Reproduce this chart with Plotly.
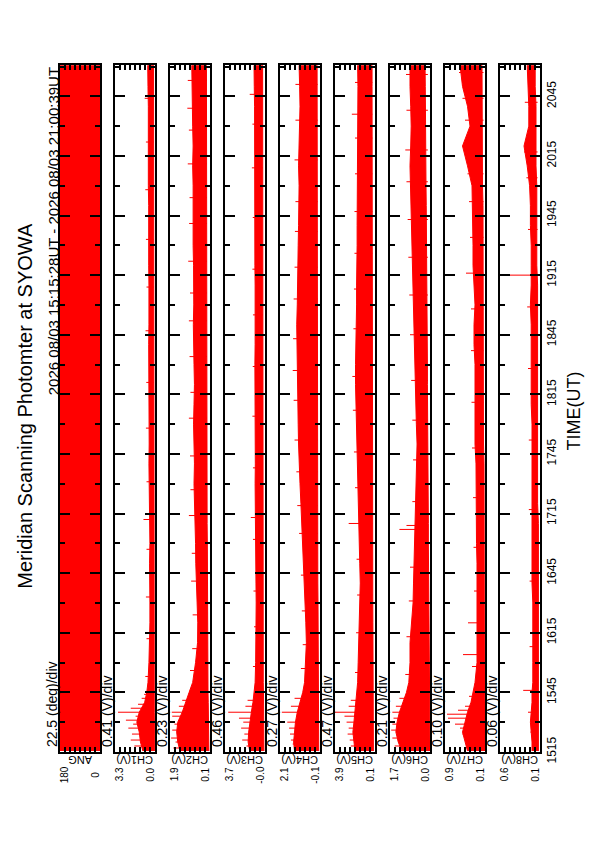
import plotly.graph_objects as go

W, H = 595, 842
OFF = 8  # browser default body margin
FONT = "Liberation Sans, Arial, sans-serif"
RED = "#ff0000"

# ---------------- data ----------------
channels = ["ANG", "CH1(V)", "CH2(V)", "CH3(V)", "CH4(V)", "CH5(V)", "CH6(V)", "CH7(V)", "CH8(V)"]
ch_max = [180, 3.3, 1.9, 3.7, 2.1, 3.9, 1.7, 0.9, 0.6]
ch_min = [0, 0.0, 0.1, -0.02, -0.1, 0.1, 0.0, 0.1, 0.1]
max_labels = ["180", "3.3", "1.9", "3.7", "2.1", "3.9", "1.7", "0.9", "0.6"]
min_labels = ["0", "0.0", "0.1", "-0.0", "-0.1", "0.1", "0.0", "0.1", "0.1"]
div_labels = ["22.5 (deg)/div", "0.41 (V)/div", "0.23 (V)/div", "0.46 (V)/div", "0.27 (V)/div",
              "0.47 (V)/div", "0.21 (V)/div", "0.10 (V)/div", "0.06 (V)/div"]
time_tick_labels = ["1515", "1545", "1615", "1645", "1715", "1745", "1815", "1845",
                    "1915", "1945", "2015", "2045"]
t_axis_start, t_axis_end = "15:15:00", "21:00:39"

ang_times = ["15:15:28", "21:00:39"]
ang_lo = [0, 0]
ang_hi = [180, 180]

band_times = ["15:15:28", "15:20", "15:25", "15:30", "15:35", "15:40", "15:45", "15:50", "16:00", "16:10",
              "16:20", "16:30", "16:40", "16:50", "17:00", "17:10", "17:20", "17:30", "17:40", "17:50",
              "18:00", "18:10", "18:20", "18:30", "18:40", "18:50", "19:00", "19:10", "19:20", "19:30",
              "19:40", "19:50", "20:00", "20:10", "20:20", "20:30", "20:40", "20:50", "21:00:39"]

ch1_hi = [1.0, 1.2, 1.3, 1.5, 1.3, 0.85, 0.68, 0.58, 0.5, 0.45, 0.42, 0.42, 0.45, 0.45, 0.42, 0.45, 0.48, 0.5, 0.5, 0.48,
          0.5, 0.52, 0.5, 0.5, 0.52, 0.5, 0.48, 0.5, 0.52, 0.5, 0.5, 0.52, 0.55, 0.55, 0.5, 0.52, 0.55, 0.58, 0.6]
ch1_lo = [0.05, 0.05, 0.06, 0.05, 0.06, 0.06, 0.07, 0.07, 0.08, 0.08, 0.08, 0.08, 0.09, 0.09, 0.08, 0.09, 0.09, 0.1, 0.1, 0.1,
          0.1, 0.1, 0.1, 0.11, 0.11, 0.1, 0.1, 0.1, 0.11, 0.11, 0.1, 0.1, 0.11, 0.12, 0.12, 0.12, 0.12, 0.12, 0.12]
ch2_hi = [1.45, 1.55, 1.6, 1.55, 1.35, 1.18, 1.04, 0.88, 0.75, 0.66, 0.65, 0.68, 0.72, 0.74, 0.75, 0.78, 0.8, 0.82, 0.8, 0.82,
          0.84, 0.82, 0.8, 0.82, 0.84, 0.85, 0.83, 0.82, 0.84, 0.86, 0.85, 0.84, 0.86, 0.88, 0.86, 0.88, 0.9, 0.9, 0.92]
ch2_lo = [0.15, 0.15, 0.16, 0.16, 0.17, 0.18, 0.19, 0.2, 0.2, 0.2, 0.21, 0.21, 0.22, 0.22, 0.22, 0.23, 0.23, 0.23, 0.24, 0.24,
          0.24, 0.24, 0.25, 0.25, 0.25, 0.25, 0.24, 0.24, 0.25, 0.25, 0.25, 0.25, 0.26, 0.26, 0.26, 0.26, 0.26, 0.26, 0.26]
ch3_hi = [1.4, 1.55, 1.5, 1.4, 1.25, 1.1, 1.0, 0.9, 0.85, 0.82, 0.8, 0.8, 0.82, 0.85, 0.85, 0.85, 0.88, 0.9, 0.88, 0.9,
          0.92, 0.9, 0.9, 0.92, 0.9, 0.88, 0.9, 0.9, 0.92, 0.92, 0.9, 0.92, 0.94, 0.95, 0.92, 0.95, 0.95, 0.98, 1.0]
ch3_lo = [0.08, 0.08, 0.1, 0.1, 0.1, 0.12, 0.12, 0.14, 0.15, 0.15, 0.16, 0.16, 0.16, 0.17, 0.17, 0.17, 0.18, 0.18, 0.18, 0.18,
          0.18, 0.18, 0.19, 0.19, 0.19, 0.19, 0.18, 0.18, 0.19, 0.19, 0.19, 0.2, 0.2, 0.2, 0.2, 0.2, 0.2, 0.2, 0.2]
ch4_hi = [1.3, 1.35, 1.3, 1.25, 1.15, 1.0, 0.85, 0.75, 0.68, 0.65, 0.68, 0.72, 0.75, 0.8, 0.85, 0.9, 0.95, 1.0, 1.05, 1.08,
          1.1, 1.12, 1.15, 1.18, 1.2, 1.18, 1.15, 1.12, 1.1, 1.1, 1.08, 1.05, 1.05, 1.08, 1.05, 1.02, 1.0, 1.02, 1.05]
ch4_lo = [-0.03, -0.03, -0.02, -0.02, -0.02, -0.01, 0.0, 0.0, 0.0, 0.01, 0.01, 0.01, 0.02, 0.02, 0.02, 0.02, 0.02, 0.03, 0.03, 0.03,
          0.03, 0.03, 0.03, 0.03, 0.03, 0.03, 0.03, 0.03, 0.03, 0.04, 0.04, 0.04, 0.04, 0.05, 0.05, 0.05, 0.05, 0.06, 0.06]
ch5_hi = [2.0, 2.1, 2.2, 2.1, 2.0, 1.9, 1.8, 1.75, 1.7, 1.65, 1.55, 1.5, 1.5, 1.55, 1.6, 1.65, 1.7, 1.75, 1.8, 1.85,
          1.9, 1.9, 1.95, 1.95, 1.9, 1.9, 1.85, 1.85, 1.8, 1.8, 1.8, 1.78, 1.75, 1.75, 1.72, 1.7, 1.7, 1.72, 1.75]
ch5_lo = [0.25, 0.25, 0.26, 0.26, 0.27, 0.28, 0.28, 0.3, 0.3, 0.3, 0.3, 0.31, 0.31, 0.32, 0.32, 0.33, 0.33, 0.34, 0.34, 0.35,
          0.35, 0.35, 0.36, 0.36, 0.36, 0.36, 0.37, 0.37, 0.37, 0.37, 0.38, 0.38, 0.38, 0.38, 0.38, 0.38, 0.38, 0.38, 0.38]
ch6_hi = [1.2, 1.35, 1.45, 1.4, 1.3, 1.15, 1.0, 0.9, 0.85, 0.85, 0.78, 0.72, 0.7, 0.68, 0.65, 0.62, 0.6, 0.58, 0.55, 0.55,
          0.58, 0.6, 0.62, 0.65, 0.68, 0.7, 0.72, 0.72, 0.75, 0.78, 0.8, 0.8, 0.82, 0.85, 0.82, 0.8, 0.82, 0.85, 0.85]
ch6_lo = [0.0, 0.0, 0.0, 0.0, 0.01, 0.01, 0.02, 0.02, 0.03, 0.04, 0.05, 0.05, 0.06, 0.06, 0.07, 0.07, 0.08, 0.08, 0.08, 0.09,
          0.1, 0.1, 0.11, 0.11, 0.12, 0.12, 0.13, 0.13, 0.14, 0.14, 0.15, 0.16, 0.17, 0.18, 0.18, 0.19, 0.2, 0.2, 0.21]
ch7_hi = [0.45, 0.5, 0.55, 0.5, 0.45, 0.38, 0.34, 0.3, 0.26, 0.26, 0.25, 0.25, 0.26, 0.26, 0.27, 0.27, 0.28, 0.28, 0.28, 0.3,
          0.3, 0.3, 0.3, 0.3, 0.32, 0.32, 0.3, 0.32, 0.34, 0.34, 0.35, 0.36, 0.36, 0.45, 0.55, 0.4, 0.45, 0.55, 0.6]
ch7_lo = [0.1, 0.1, 0.1, 0.1, 0.1, 0.1, 0.11, 0.11, 0.11, 0.11, 0.11, 0.11, 0.12, 0.12, 0.12, 0.12, 0.12, 0.12, 0.12, 0.13,
          0.13, 0.13, 0.13, 0.13, 0.13, 0.13, 0.14, 0.14, 0.14, 0.14, 0.14, 0.14, 0.15, 0.15, 0.15, 0.15, 0.16, 0.16, 0.16]
ch8_hi = [0.2, 0.2, 0.21, 0.22, 0.21, 0.2, 0.2, 0.19, 0.19, 0.19, 0.19, 0.19, 0.2, 0.2, 0.2, 0.2, 0.2, 0.2, 0.2, 0.2,
          0.2, 0.21, 0.21, 0.21, 0.21, 0.21, 0.22, 0.21, 0.21, 0.21, 0.22, 0.22, 0.23, 0.26, 0.3, 0.24, 0.24, 0.25, 0.26]
ch8_lo = [0.12, 0.12, 0.12, 0.12, 0.12, 0.12, 0.12, 0.12, 0.12, 0.12, 0.12, 0.12, 0.12, 0.12, 0.12, 0.12, 0.13, 0.13, 0.13, 0.13,
          0.13, 0.13, 0.13, 0.13, 0.13, 0.13, 0.13, 0.13, 0.14, 0.14, 0.14, 0.14, 0.14, 0.15, 0.15, 0.15, 0.15, 0.16, 0.16]

# spikes: early burst plus the scattered excursions seen along each trace
ch1_spike_t = ["15:18", "15:21", "15:24", "15:27", "15:29", "15:31", "15:33", "15:35", "15:37", "15:39", "15:42", "15:44",
               "15:53", "16:12", "16:33", "16:57", "17:12", "17:31", "17:58", "18:21", "18:47", "19:09", "19:33",
               "19:58", "20:22", "20:44"]
ch1_spike_v = [1.7, 2.0, 1.9, 2.2, 1.8, 2.4, 1.6, 3.05, 2.0, 1.4, 1.1, 0.9,
               0.8, 0.7, 0.75, 0.7, 0.95, 0.7, 0.75, 0.72, 0.78, 0.7, 0.75, 0.8, 0.75, 0.85]
ch2_spike_t = ["15:17", "15:20", "15:22", "15:26", "15:29", "15:33", "15:35", "15:38", "15:41",
               "15:56", "16:07", "16:24", "16:41", "16:55", "17:14", "17:27", "17:44", "18:03", "18:16", "18:34",
               "18:52", "19:06", "19:22", "19:41", "19:54", "20:11", "20:28", "20:39", "20:53"]
ch2_spike_v = [1.75, 1.65, 1.85, 1.8, 1.7, 1.8, 1.82, 1.5, 1.35,
               1.0, 0.9, 0.88, 0.95, 0.92, 1.05, 0.98, 1.0, 1.05, 0.98, 1.02, 1.05, 1.0, 1.08, 1.04, 1.02, 1.1,
               1.05, 1.12, 1.1]
ch3_spike_t = ["15:18", "15:21", "15:24", "15:27", "15:30", "15:32", "15:35", "15:38", "15:41",
               "15:58", "16:18", "16:36", "17:02", "17:13", "17:38", "18:04", "18:29", "18:55", "19:18", "19:44",
               "20:09", "20:31", "20:46"]
ch3_spike_v = [1.7, 2.1, 1.9, 2.2, 2.0, 2.4, 3.4, 1.8, 1.6,
               1.1, 1.0, 1.05, 1.1, 1.3, 1.1, 1.15, 1.12, 1.1, 1.15, 1.12, 1.2, 1.15, 1.4]
ch4_spike_t = ["15:19", "15:21", "15:24", "15:27", "15:30", "15:35", "15:38", "15:42",
               "15:57", "16:09", "16:26", "16:44", "17:05", "17:19", "17:36", "17:52", "18:12", "18:27", "18:43",
               "19:03", "19:19", "19:37", "19:52", "20:13", "20:33", "20:51"]
ch4_spike_v = [1.4, 1.5, 1.55, 1.6, 1.7, 2.0, 1.5, 1.3,
               0.95, 0.85, 0.9, 0.95, 1.05, 1.15, 1.2, 1.3, 1.35, 1.4, 1.38, 1.35, 1.3, 1.28, 1.25, 1.3, 1.25, 1.25]
ch5_spike_t = ["15:18", "15:21", "15:24", "15:27", "15:30", "15:33", "15:35", "15:38", "15:41",
               "15:55", "16:15", "16:34", "16:52", "17:10", "17:28", "17:46", "18:07", "18:24", "18:48",
               "19:08", "19:26", "19:47", "20:06", "20:24", "20:36", "20:52"]
ch5_spike_v = [2.4, 2.5, 2.7, 2.6, 2.8, 3.0, 3.9, 2.6, 2.4,
               2.0, 1.9, 1.8, 1.85, 2.6, 2.0, 2.1, 2.2, 2.25, 2.15, 2.1, 2.05, 2.05, 2.0, 2.0, 2.3, 2.0]
ch6_spike_t = ["15:18", "15:22", "15:26", "15:29", "15:32", "15:35", "15:38", "15:42", "17:07", "17:09",
               "15:54", "16:13", "16:31", "16:48", "17:21", "17:42", "18:02", "18:22", "18:45", "19:05", "19:24",
               "19:43", "20:02", "20:18", "20:38", "20:56"]
ch6_spike_v = [1.5, 1.6, 1.65, 1.6, 1.55, 1.6, 1.45, 1.3, 1.3, 1.0,
               1.05, 1.0, 0.9, 0.85, 0.75, 0.72, 0.75, 0.8, 0.85, 0.88, 0.92, 0.95, 1.0, 1.05, 1.0, 1.02]
ch7_spike_t = ["15:24", "15:27", "15:29", "15:32", "15:34", "15:36", "15:38", "15:43", "16:04", "16:20", "19:16", "20:57",
               "15:58", "16:36", "16:58", "17:23", "17:48", "18:11", "18:37", "18:58", "19:34", "19:52", "20:06",
               "20:33", "20:44"]
ch7_spike_v = [0.55, 0.6, 0.7, 0.84, 0.86, 0.64, 0.5, 0.42, 0.54, 0.44, 0.48, 0.62,
               0.36, 0.32, 0.33, 0.34, 0.36, 0.37, 0.38, 0.38, 0.4, 0.42, 0.45, 0.5, 0.55]
ch8_spike_t = ["15:25", "15:35", "15:46", "19:15", "20:17",
               "16:08", "16:41", "17:17", "17:52", "18:28", "18:59", "19:38", "20:04", "20:42"]
ch8_spike_v = [0.22, 0.25, 0.31, 0.54, 0.3,
               0.23, 0.23, 0.24, 0.24, 0.25, 0.26, 0.25, 0.27, 0.29]


# ---------------- helpers ----------------
FW, FH = W - OFF, H - OFF  # figure size so that figure + body margin fits the window


def tmin(s):
    p = [int(v) for v in s.split(":")]
    return p[0] * 60 + p[1] + (p[2] / 60 if len(p) > 2 else 0)


def tick_min(s):
    return int(s[:2]) * 60 + int(s[2:])


def px(x):  # screen x pixel -> paper fraction
    return (x - OFF) / FW


def py(y):  # screen y pixel -> paper fraction
    return 1 - (y - OFF) / FH


bands = [(ang_times, ang_lo, ang_hi),
         (band_times, ch1_lo, ch1_hi), (band_times, ch2_lo, ch2_hi), (band_times, ch3_lo, ch3_hi),
         (band_times, ch4_lo, ch4_hi), (band_times, ch5_lo, ch5_hi), (band_times, ch6_lo, ch6_hi),
         (band_times, ch7_lo, ch7_hi), (band_times, ch8_lo, ch8_hi)]
spikes = [None, (ch1_spike_t, ch1_spike_v), (ch2_spike_t, ch2_spike_v), (ch3_spike_t, ch3_spike_v),
          (ch4_spike_t, ch4_spike_v), (ch5_spike_t, ch5_spike_v), (ch6_spike_t, ch6_spike_v),
          (ch7_spike_t, ch7_spike_v), (ch8_spike_t, ch8_spike_v)]

T0, T1 = tmin(t_axis_start) - 0.05, tmin(t_axis_end)
TOP, BOT = 66, 762
fig = go.Figure()
layout = dict(width=FW, height=FH, margin=dict(l=0, r=0, t=0, b=0), paper_bgcolor="white",
              plot_bgcolor="white", showlegend=False, font=dict(family=FONT, color="black"))
annotations = []

for i in range(len(channels)):
    L = 60 + 55 * i
    R = L + 40
    sfx = "" if i == 0 else str(i + 1)
    xa, ya = "x" + sfx, "y" + sfx
    times, lo, hi = bands[i]
    tt = [tmin(s) for s in times]
    fig.add_trace(go.Scatter(x=hi + lo[::-1], y=tt + tt[::-1], xaxis=xa, yaxis=ya, mode="lines",
                             fill="toself", fillcolor=RED, line=dict(color=RED, width=1),
                             hoverinfo="skip"))
    if spikes[i] is not None:
        st, sv = spikes[i]
        xs, ys = [], []
        base = lo[len(lo) // 2]
        for s, v in zip(st, sv):
            t = tmin(s)
            xs += [base, v, None]
            ys += [t, t, None]
        fig.add_trace(go.Scatter(x=xs, y=ys, xaxis=xa, yaxis=ya, mode="lines",
                                 line=dict(color=RED, width=1), hoverinfo="skip"))
    span = ch_max[i] - ch_min[i]
    layout["xaxis" + sfx] = dict(domain=[px(L), px(R)], range=[ch_max[i], ch_min[i]], anchor=ya,
                                 showline=True, linecolor="black", linewidth=2, mirror="ticks",
                                 ticks="inside", ticklen=5, tickwidth=1.5, tickcolor="black",
                                 tickmode="linear", tick0=ch_min[i], dtick=span / 8,
                                 showticklabels=False, showgrid=False, zeroline=False)
    ydict = dict(domain=[py(BOT), py(TOP)], range=[T0, T1], anchor=xa,
                 showline=True, linecolor="black", linewidth=2, mirror="ticks",
                 ticks="inside", ticklen=10, tickwidth=2, tickcolor="black",
                 tickmode="array", tickvals=[tick_min(s) for s in time_tick_labels],
                 ticktext=time_tick_labels,
                 minor=dict(ticks="inside", ticklen=5, tickwidth=2, tickcolor="black",
                            tickmode="linear", tick0=tick_min(time_tick_labels[0]) + 15, dtick=30),
                 showgrid=False, zeroline=False, showticklabels=(i == len(channels) - 1),
                 tickangle=-90, tickfont=dict(size=12, family=FONT))
    if i == len(channels) - 1:
        ydict["side"] = "right"
    if i > 0:
        ydict["matches"] = "y"
    layout["yaxis" + sfx] = ydict

    # labels below panel
    annotations.append(dict(x=px(L + 4.5), y=py(785), text=max_labels[i], textangle=-90,
                            font=dict(size=10), xanchor="center", yanchor="middle"))
    annotations.append(dict(x=px(R - 4), y=py(785), text=min_labels[i], textangle=-90,
                            font=dict(size=10), xanchor="center", yanchor="middle"))
    annotations.append(dict(x=px((L + R) / 2), y=py(770), text=channels[i], textangle=180,
                            font=dict(size=11), xanchor="center", yanchor="middle"))
    annotations.append(dict(x=px(L - 8), y=py(759), text=div_labels[i], textangle=-90,
                            font=dict(size=14), xanchor="center", yanchor="bottom"))

annotations.append(dict(x=px(25), y=py(411), text="Meridian Scanning Photomter at SYOWA", textangle=-90,
                        font=dict(size=20), xanchor="center", yanchor="middle"))
annotations.append(dict(x=px(53), y=py(66), text="2026 08/03 15:15:28UT - 2026 08/03 21:00:39UT",
                        textangle=-90, font=dict(size=15), xanchor="center", yanchor="top"))
annotations.append(dict(x=px(574), y=py(417), text="TIME(UT)", textangle=-90,
                        font=dict(size=18), xanchor="center", yanchor="middle"))
for a in annotations:
    a.update(xref="paper", yref="paper", showarrow=False)
layout["annotations"] = annotations
fig.update_layout(**layout)
fig.write_html("out.html")
